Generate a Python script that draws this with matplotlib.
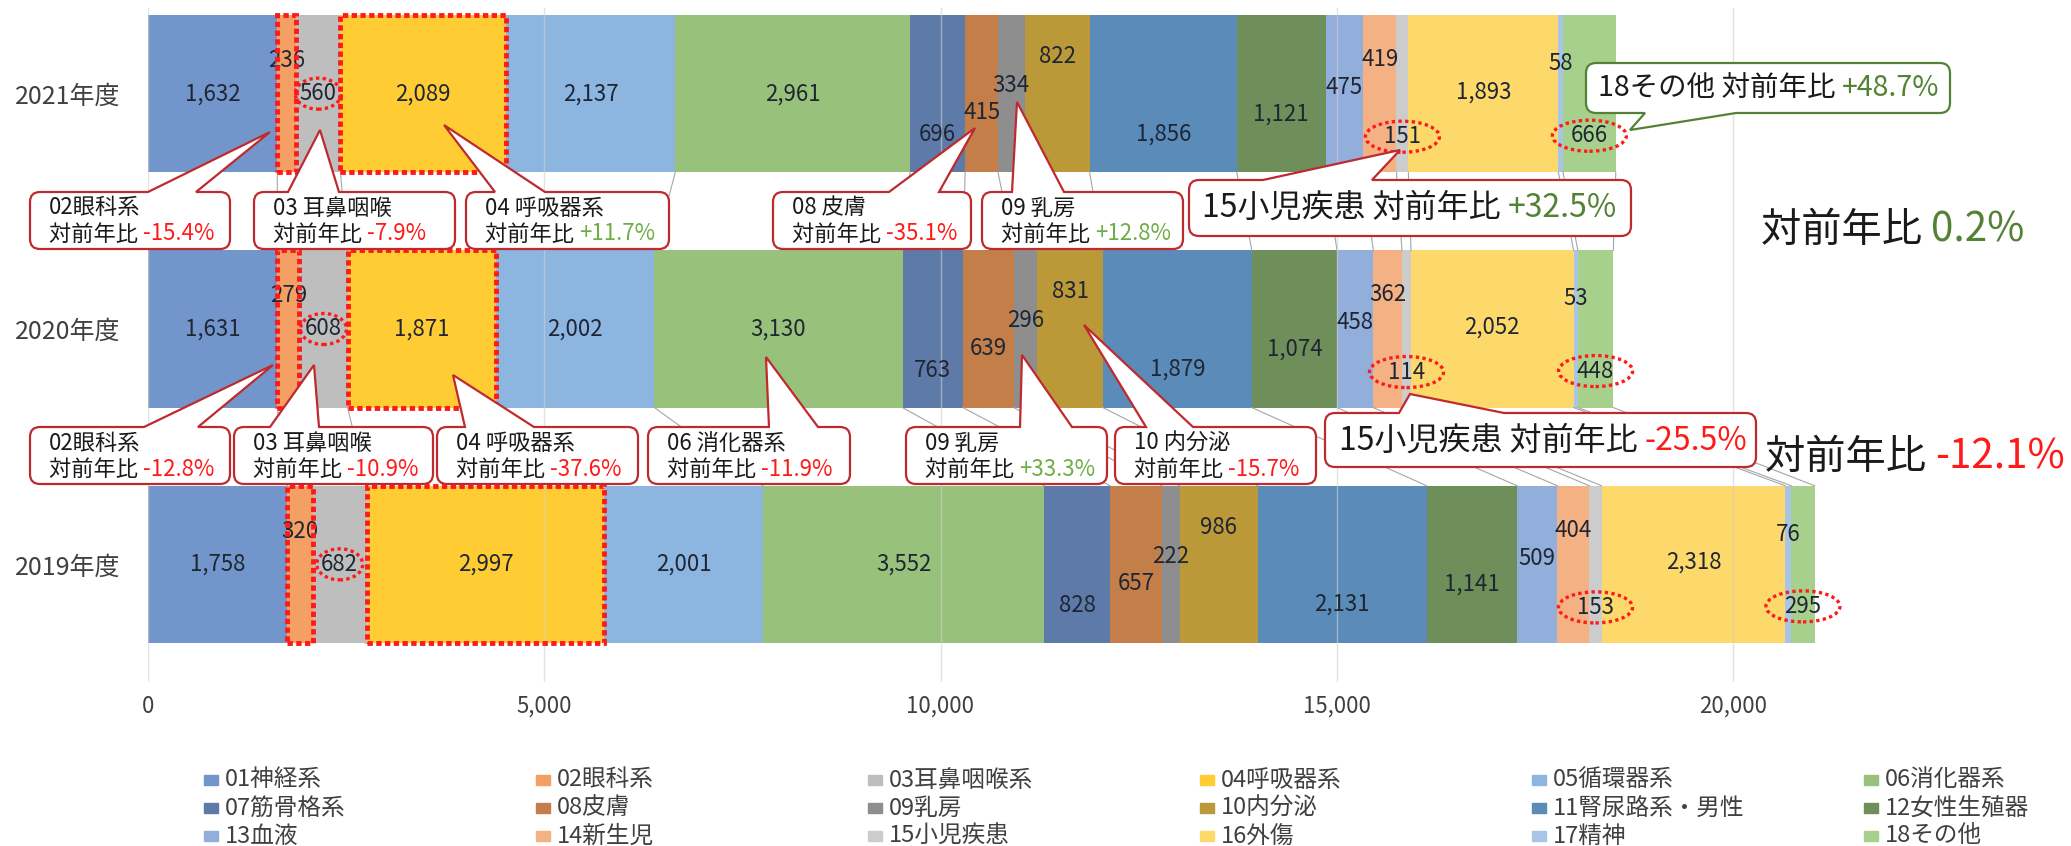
import matplotlib
matplotlib.use("Agg")
import matplotlib.pyplot as plt
import numpy as np
from matplotlib.patches import Rectangle, Ellipse, PathPatch
from matplotlib.path import Path

plt.rcParams['font.family'] = ['Noto Sans CJK JP', 'DejaVu Sans']

W, H = 2071, 846

# ---- data ----
categories = ['01神経系', '02眼科系', '03耳鼻咽喉系', '04呼吸器系', '05循環器系', '06消化器系',
              '07筋骨格系', '08皮膚', '09乳房', '10内分泌', '11腎尿路系・男性', '12女性生殖器',
              '13血液', '14新生児', '15小児疾患', '16外傷', '17精神', '18その他']
years = ['2019年度', '2020年度', '2021年度']
v2019 = [1758, 320, 682, 2997, 2001, 3552, 828, 657, 222, 986, 2131, 1141, 509, 404, 153, 2318, 76, 295]
v2020 = [1631, 279, 608, 1871, 2002, 3130, 763, 639, 296, 831, 1879, 1074, 458, 362, 114, 2052, 53, 448]
v2021 = [1632, 236, 560, 2089, 2137, 2961, 696, 415, 334, 822, 1856, 1121, 475, 419, 151, 1893, 58, 666]
values = [v2019, v2020, v2021]

colors = ['#7295CC', '#F4A064', '#BEBEBE', '#FFCC33', '#8CB5E0', '#98C27B',
          '#5E7AA8', '#C47E4A', '#8E8E8E', '#BB9838', '#5B8BB8', '#6F8F5A',
          '#92AEDB', '#F4B183', '#CCCCCC', '#FCD96A', '#A9C5E6', '#A8D08D']

# label nudges (pixels, downward) as placed in the original sheet
label_nudge = [0, -33, 0, 0, 0, 0, 41, 19, -8, -37, 40, 20, -6, -34, 43, -2, -30, 42]
circled = {2: 46, 14: 74, 17: 74}   # category -> ellipse width px
boxed = [1, 3]

RED = '#FF1A1A'
GREEN = '#70AD47'
DKGREEN = '#548235'
DKRED = '#BE2A2E'

BAR_H = 0.668
XMAX = 24000
PX_X = 0.07925        # px per unit
PX_Y = 235.0          # px per row

fig = plt.figure(figsize=(W / 100, H / 100), dpi=100)
ax_w = XMAX * PX_X
ax = fig.add_axes([148 / W, (H - 682) / H, ax_w / W, 674 / H])
ax.set_xlim(0, XMAX)
ax.set_ylim(-0.5, 2.364)

rows = np.arange(len(years))
cums = [np.concatenate([[0], np.cumsum(v)]) for v in values]

for i, cat in enumerate(categories):
    widths = [values[r][i] for r in rows]
    lefts = [cums[r][i] for r in rows]
    ax.barh(rows, widths, left=lefts, height=BAR_H, color=colors[i], zorder=1)
    for r in rows:
        v = values[r][i]
        x = lefts[r] + v / 2
        y = r - label_nudge[i] / PX_Y
        ax.text(x, y, f"{v:,}", ha='center', va='center', fontsize=16,
                color='#1F2633', zorder=4)
        if i in circled:
            ax.add_patch(Ellipse((x, y), circled[i] / PX_X, 31 / PX_Y, fill=False,
                                 ec=RED, lw=2.4, ls=(0, (1, 1)), zorder=5))
        if i in boxed:
            ax.add_patch(Rectangle((lefts[r], r - BAR_H / 2), v, BAR_H, fill=False,
                                   ec=RED, lw=3.5, ls=(0, (1.1, 0.7)), zorder=5,
                                   clip_on=False))

# series lines between bars
for r in range(len(rows) - 1):
    for k in range(1, len(categories) + 1):
        ax.plot([cums[r][k], cums[r + 1][k]], [r + BAR_H / 2, r + 1 - BAR_H / 2],
                color='#A6A6A6', lw=0.8, zorder=1.2)

ax.set_xticks(range(0, 20001, 5000))
ax.set_xticklabels([f"{t:,}" for t in range(0, 20001, 5000)])
ax.set_yticks(rows)
ax.set_yticklabels(years)
ax.tick_params(axis='x', length=0, pad=9, labelsize=16, labelcolor='#404040')
ax.tick_params(axis='y', length=0, pad=20, labelsize=18, labelcolor='#404040')
ax.grid(axis='x', color='#D0D0D0', lw=1.0, alpha=0.6)
for s in ax.spines.values():
    s.set_visible(False)

# ---- overlay in pixel coordinates for callouts / legend ----
ov = fig.add_axes([0, 0, 1, 1], zorder=10)
ov.set_xlim(0, W)
ov.set_ylim(H, 0)
ov.axis('off')
ov.patch.set_alpha(0)


def callout(box, base, tip, side='top', ec=DKRED, r=10, lw=1.6):
    x0, y0, x1, y1 = box
    verts = [(x0 + r, y0)]
    codes = [Path.MOVETO]
    if side == 'top':
        verts += [(base[0], y0), tip, (base[1], y0)]
        codes += [Path.LINETO] * 3
    verts += [(x1 - r, y0), (x1, y0), (x1, y0 + r)]
    codes += [Path.LINETO, Path.CURVE3, Path.CURVE3]
    verts += [(x1, y1 - r), (x1, y1), (x1 - r, y1)]
    codes += [Path.LINETO, Path.CURVE3, Path.CURVE3]
    if side == 'bottom':
        verts += [(base[1], y1), tip, (base[0], y1)]
        codes += [Path.LINETO] * 3
    verts += [(x0 + r, y1), (x0, y1), (x0, y1 - r)]
    codes += [Path.LINETO, Path.CURVE3, Path.CURVE3]
    verts += [(x0, y0 + r), (x0, y0), (x0 + r, y0)]
    codes += [Path.LINETO, Path.CURVE3, Path.CURVE3]
    verts.append((x0 + r, y0))
    codes.append(Path.CLOSEPOLY)
    ov.add_patch(PathPatch(Path(verts, codes), fc='white', ec=ec, lw=lw, zorder=6))


def two_tone(x, y, s1, s2, c2, size):
    t = ov.text(x, y, s1, ha='left', va='center', fontsize=size, color='#1A1A1A', zorder=7)
    ov.annotate(s2, xy=(1, 0), xycoords=t, ha='left', va='bottom', fontsize=size,
                color=c2, zorder=7)


def yoy(cur, prev):
    p = (cur / prev - 1) * 100
    return f"{p:+.1f}%", (GREEN if p >= 0 else RED)


# small callouts: (name, category, year row, box, wedge base, tip)
small_callouts = [
    ('02眼科系', 1, 2, (30, 192, 230, 249), (148, 196), (270, 132)),
    ('03 耳鼻咽喉', 2, 2, (254, 192, 455, 249), (288, 339), (320, 130)),
    ('04 呼吸器系', 3, 2, (466, 192, 669, 249), (495, 545), (444, 125)),
    ('08 皮膚', 7, 2, (773, 192, 971, 249), (889, 939), (975, 128)),
    ('09 乳房', 8, 2, (982, 192, 1183, 249), (1012, 1064), (1017, 102)),
    ('02眼科系', 1, 1, (30, 427, 230, 484), (144, 198), (273, 365)),
    ('03 耳鼻咽喉', 2, 1, (234, 427, 433, 484), (270, 319), (314, 365)),
    ('04 呼吸器系', 3, 1, (437, 427, 638, 484), (465, 534), (453, 375)),
    ('06 消化器系', 5, 1, (648, 427, 850, 484), (769, 818), (766, 357)),
    ('09 乳房', 8, 1, (906, 427, 1107, 484), (1020, 1072), (1022, 355)),
    ('10 内分泌', 9, 1, (1115, 427, 1316, 484), (1146, 1193), (1084, 325)),
]
for name, i, r, box, base, tip in small_callouts:
    callout(box, base, tip)
    pct, col = yoy(values[r][i], values[r - 1][i])
    tx = box[0] + 19
    ov.text(tx, box[1] + 16, name, ha='left', va='center', fontsize=16,
            color='#1A1A1A', zorder=7)
    two_tone(tx, box[1] + 42, '対前年比 ', pct, col, 16)

# large callouts for 15 / 18
pct, col = yoy(v2021[14], v2020[14])
callout((1189, 180, 1631, 236), (1263, 1372), (1400, 150))
two_tone(1202, 208, '15小児疾患 対前年比 ', pct, DKGREEN if col == GREEN else col, 23)

pct, col = yoy(v2020[14], v2019[14])
callout((1325, 413, 1756, 467), (1399, 1504), (1410, 394))
two_tone(1339, 441, '15小児疾患 対前年比 ', pct, col, 23)

pct, col = yoy(v2021[17], v2020[17])
callout((1586, 63, 1950, 113), (1645, 1736), (1630, 130), side='bottom', ec=DKGREEN)
two_tone(1598, 88, '18その他 対前年比 ', pct, DKGREEN if col == GREEN else col, 20.5)

# totals
tot = [sum(v) for v in values]
p21 = (tot[2] / tot[1] - 1) * 100
p20 = (tot[1] / tot[0] - 1) * 100
two_tone(1761, 230, '対前年比 ', f"{p21:.1f}%", DKGREEN if p21 >= 0 else RED, 29)
two_tone(1765, 457, '対前年比 ', f"{p20:.1f}%", DKGREEN if p20 >= 0 else RED, 29)

# legend (6 columns x 3 rows)
for k, cat in enumerate(categories):
    lx = 204 + 332 * (k % 6)
    ly = 780 + 28 * (k // 6)
    ov.add_patch(Rectangle((lx, ly - 5), 14, 10, color=colors[k], zorder=7))
    ov.text(lx + 21, ly, cat, ha='left', va='center', fontsize=17, color='#404040', zorder=7)

fig.savefig('out.png', dpi=100)
